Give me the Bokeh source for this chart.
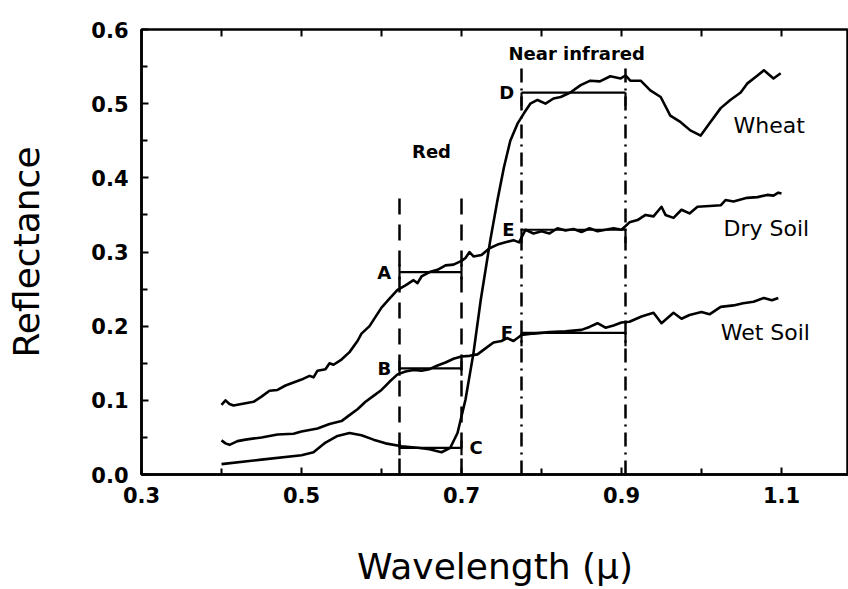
from bokeh.plotting import figure
from bokeh.models import ColumnDataSource, FixedTicker, Range1d, PrintfTickFormatter
from bokeh.core.properties import value
from bokeh.embed import file_html
from bokeh.resources import INLINE

# ---------------- data ----------------
wheat_x = [0.4, 0.45, 0.5, 0.515, 0.53, 0.545, 0.56, 0.575, 0.59, 0.605, 0.625, 0.645,
           0.66, 0.675, 0.686, 0.695, 0.705, 0.715, 0.724, 0.736, 0.745, 0.753, 0.761,
           0.77, 0.778, 0.786, 0.795, 0.805, 0.815, 0.824, 0.836, 0.849, 0.861, 0.873,
           0.886, 0.899, 0.905, 0.911, 0.924, 0.936, 0.949, 0.961, 0.974, 0.986, 0.999,
           1.011, 1.024, 1.036, 1.049, 1.057, 1.07, 1.078, 1.09, 1.099]
wheat_y = [0.014, 0.02, 0.026, 0.03, 0.043, 0.052, 0.056, 0.053, 0.047, 0.042, 0.038, 0.036,
           0.034, 0.030, 0.036, 0.056, 0.101, 0.164, 0.235, 0.316, 0.37, 0.414, 0.45,
           0.473, 0.487, 0.50, 0.505, 0.50, 0.507, 0.509, 0.515, 0.525, 0.531, 0.53,
           0.537, 0.534, 0.538, 0.531, 0.531, 0.518, 0.509, 0.484, 0.475, 0.464, 0.457,
           0.475, 0.494, 0.505, 0.515, 0.527, 0.538, 0.545, 0.534, 0.541]

dry_x = [0.4, 0.405, 0.41, 0.415, 0.43, 0.44, 0.45, 0.46, 0.47, 0.48, 0.49, 0.5, 0.51,
         0.515, 0.52, 0.53, 0.535, 0.54, 0.55, 0.56, 0.57, 0.575, 0.585, 0.6, 0.61, 0.62,
         0.63, 0.64, 0.645, 0.65, 0.66, 0.67, 0.68, 0.69, 0.70, 0.705, 0.71, 0.715, 0.725,
         0.735, 0.745, 0.755, 0.765, 0.772, 0.78, 0.79, 0.8, 0.81, 0.82, 0.83, 0.84, 0.85,
         0.86, 0.87, 0.88, 0.89, 0.9, 0.91, 0.92, 0.93, 0.94, 0.95, 0.955, 0.965, 0.975,
         0.985, 0.995, 1.01, 1.024, 1.03, 1.04, 1.057, 1.07, 1.082, 1.09, 1.096, 1.1]
dry_y = [0.094, 0.1, 0.095, 0.093, 0.096, 0.098, 0.105, 0.113, 0.114, 0.12, 0.124, 0.128, 0.133,
         0.131, 0.14, 0.142, 0.15, 0.148, 0.155, 0.165, 0.18, 0.19, 0.2, 0.225, 0.237, 0.249,
         0.255, 0.262, 0.258, 0.267, 0.273, 0.276, 0.282, 0.283, 0.288, 0.292, 0.3, 0.294, 0.296,
         0.305, 0.31, 0.313, 0.316, 0.313, 0.33, 0.325, 0.328, 0.325, 0.332, 0.329, 0.331, 0.327,
         0.332, 0.328, 0.33, 0.332, 0.33, 0.34, 0.343, 0.35, 0.348, 0.361, 0.35, 0.346, 0.357,
         0.352, 0.361, 0.362, 0.363, 0.37, 0.368, 0.373, 0.374, 0.377, 0.376, 0.38, 0.379]

wet_x = [0.4, 0.405, 0.41, 0.42, 0.43, 0.45, 0.47, 0.49, 0.5, 0.52, 0.535, 0.55, 0.56, 0.57,
         0.58, 0.59, 0.6, 0.61, 0.62, 0.63, 0.64, 0.65, 0.66, 0.67, 0.68, 0.69, 0.7, 0.71,
         0.72, 0.73, 0.74, 0.75, 0.757, 0.765, 0.775, 0.79, 0.81, 0.83, 0.85, 0.86, 0.87,
         0.88, 0.89, 0.9, 0.91, 0.925, 0.94, 0.95, 0.965, 0.975, 0.985, 1.0, 1.01, 1.024,
         1.04, 1.052, 1.065, 1.078, 1.088, 1.096]
wet_y = [0.046, 0.042, 0.04, 0.045, 0.047, 0.05, 0.054, 0.055, 0.058, 0.062, 0.068, 0.072, 0.08, 0.088,
         0.098, 0.106, 0.114, 0.125, 0.135, 0.139, 0.141, 0.14, 0.142, 0.147, 0.151, 0.156, 0.159, 0.16,
         0.162, 0.17, 0.178, 0.18, 0.184, 0.18, 0.188, 0.19, 0.192, 0.193, 0.195, 0.199, 0.204,
         0.198, 0.201, 0.205, 0.206, 0.213, 0.218, 0.204, 0.218, 0.21, 0.215, 0.219, 0.216, 0.226,
         0.228, 0.231, 0.233, 0.238, 0.235, 0.238]

x_tick_values = [0.3, 0.5, 0.7, 0.9, 1.1]
x_minor_values = [0.4, 0.6, 0.8, 1.0]
y_tick_values = [0.0, 0.1, 0.2, 0.3, 0.4, 0.5, 0.6]
y_minor_values = [0.05, 0.15, 0.25, 0.35, 0.45, 0.55]

red_band = [0.6225, 0.70]
nir_band = [0.775, 0.905]

bracket_names = ["A", "B", "C", "D", "E", "F"]
bracket_level = [0.273, 0.143, 0.036, 0.515, 0.33, 0.191]
bracket_start = [0.6225, 0.6225, 0.6225, 0.775, 0.775, 0.775]
bracket_end = [0.70, 0.70, 0.70, 0.905, 0.905, 0.905]

curve_names = ["Wheat", "Dry Soil", "Wet Soil"]

# ---------------- figure ----------------
FONT = "DejaVu Sans"
Y0, Y1 = 0.0, 0.6

p = figure(width=848, height=589, output_backend="svg", toolbar_location=None,
           x_range=Range1d(0.3, 1.18375), y_range=Range1d(Y0, Y1),
           min_border_left=141, min_border_right=0, min_border_top=29, min_border_bottom=114)
p.outline_line_color = "black"
p.outline_line_width = 2.5
p.xgrid.visible = False
p.ygrid.visible = False
p.background_fill_color = "white"
p.border_fill_color = "white"

for ax in (p.xaxis[0], p.yaxis[0]):
    ax.axis_line_width = 2.5
    ax.axis_line_color = "black"
    ax.major_tick_in = 7
    ax.major_tick_out = 0
    ax.minor_tick_in = 6
    ax.minor_tick_out = 0
    ax.major_tick_line_width = 2
    ax.minor_tick_line_width = 2
    ax.major_tick_line_color = "black"
    ax.minor_tick_line_color = "black"
    ax.major_label_text_font = FONT
    ax.major_label_text_font_style = "bold"
    ax.major_label_text_font_size = "21px"
    ax.major_label_text_color = "black"
    ax.formatter = PrintfTickFormatter(format="%.1f")
    ax.axis_label_text_font = FONT
    ax.axis_label_text_font_style = "normal"
    ax.axis_label_text_font_size = "36px"
    ax.axis_label_text_color = "black"

p.xaxis.ticker = FixedTicker(ticks=x_tick_values, minor_ticks=x_minor_values)
p.yaxis.ticker = FixedTicker(ticks=y_tick_values, minor_ticks=y_minor_values)
p.xaxis.major_label_standoff = 12
p.yaxis.major_label_standoff = 13
p.yaxis.axis_label = "Reflectance"
p.yaxis.axis_label_standoff = 41
p.xaxis.axis_label = "Wavelength (\u03bc)"
p.xaxis.axis_label_standoff = 40

# ticks along the top frame edge
top_ticks = x_tick_values + x_minor_values
p.segment(x0=top_ticks, y0=[Y1] * len(top_ticks), x1=top_ticks,
          y1=[Y1 - 0.0095] * len(top_ticks), line_color="black", line_width=2)

# ---------------- band lines ----------------
for xv in red_band:
    p.line([xv, xv], [0.0, 0.38], line_color="black", line_width=2.5, line_dash="16 10")
for xv in nir_band:
    p.line([xv, xv], [0.0, 0.548], line_color="black", line_width=2.5, line_dash="14 6 2 6")

# ---------------- brackets ----------------
for name, lvl, x0, x1 in zip(bracket_names, bracket_level, bracket_start, bracket_end):
    p.line([x0, x1], [lvl, lvl], line_color="black", line_width=2.2)
    if name in ("A", "B", "C"):
        lo, hi = lvl - 0.01, lvl + 0.01
    else:
        lo, hi = lvl - 0.018, lvl
    p.line([x0, x0], [lo, hi], line_color="black", line_width=2.2)
    p.line([x1, x1], [lo, hi], line_color="black", line_width=2.2)

# ---------------- curves ----------------
for xs, ys in ((wheat_x, wheat_y), (dry_x, dry_y), (wet_x, wet_y)):
    p.line(xs, ys, line_color="black", line_width=2.6, line_join="round")

# ---------------- texts ----------------
letter_src = ColumnDataSource(dict(
    x=[0.612, 0.612, 0.71, 0.766, 0.751, 0.749],
    y=[0.273, 0.143, 0.037, 0.515, 0.33, 0.191],
    t=bracket_names,
    align=["right", "right", "left", "right", "left", "left"],
))
p.text(x="x", y="y", text="t", text_align="align", text_baseline="middle",
       text_font=value(FONT), text_font_style="bold", text_font_size="18px",
       text_color="black", source=letter_src)

band_src = ColumnDataSource(dict(x=[0.6625, 0.844], y=[0.436, 0.568], t=["Red", "Near infrared"]))
p.text(x="x", y="y", text="t", text_align="center", text_baseline="middle",
       text_font=value(FONT), text_font_style="bold", text_font_size="18px",
       text_color="black", source=band_src)

curve_src = ColumnDataSource(dict(x=[1.04, 1.0275, 1.024], y=[0.471, 0.332, 0.191], t=curve_names))
p.text(x="x", y="y", text="t", text_align="left", text_baseline="middle",
       text_font=value(FONT), text_font_size="22px",
       text_color="black", source=curve_src)

open("out.html", "w").write(file_html(p, INLINE))
